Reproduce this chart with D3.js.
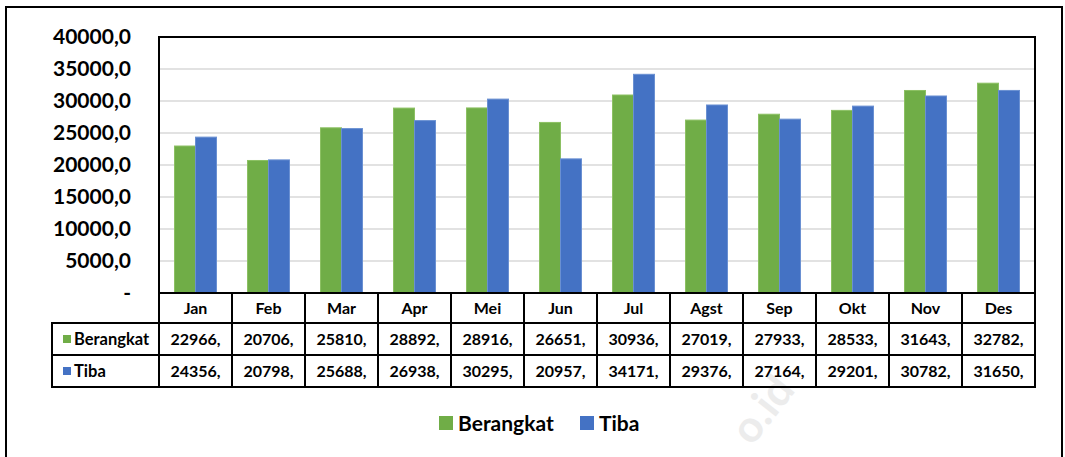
<!DOCTYPE html>
<html>
<head>
<meta charset="utf-8">
<script src="https://cdn.jsdelivr.net/npm/d3@7"></script>
<style>
  body { margin: 0; background: #fff; }
  svg { display: block; font-family: Lato, "Open Sans", sans-serif; font-weight: bold; }
</style>
</head>
<body>
<svg id="chart" width="1065" height="457"></svg>
<script>
// Chart data
const months = ['Jan', 'Feb', 'Mar', 'Apr', 'Mei', 'Jun', 'Jul', 'Agst', 'Sep', 'Okt', 'Nov', 'Des'];
const berangkat = [22966, 20706, 25810, 28892, 28916, 26651, 30936, 27019, 27933, 28533, 31643, 32782];
const tiba = [24356, 20798, 25688, 26938, 30295, 20957, 34171, 29376, 27164, 29201, 30782, 31650];
const yTicks = [0, 5000, 10000, 15000, 20000, 25000, 30000, 35000, 40000];

const series = [
  {name: 'Berangkat', values: berangkat, color: '#70ad47', edge: '#8cc063'},
  {name: 'Tiba', values: tiba, color: '#4472c4', edge: '#6a90d2'}
];

const svg = d3.select('#chart');

// plot area
const plotLeft = 159, plotRight = 1035, plotTop = 37, plotBottom = 293;
const rowH = [30, 32, 32];   // header row, Berangkat row, Tiba row
const tableLeft = 52;
const tableBottom = plotBottom + d3.sum(rowH);

const x = d3.scaleBand().domain(months).range([plotLeft, plotRight]);
const y = d3.scaleLinear().domain([0, 40000]).range([plotBottom, plotTop]);
const barW = 21;

// outer frame
svg.append('rect')
  .attr('x', 6).attr('y', 7).attr('width', 1056).attr('height', 470)
  .attr('fill', 'none').attr('stroke', '#000').attr('stroke-width', 2);

// watermark
svg.append('text')
  .attr('transform', 'translate(752,447) rotate(-52)')
  .attr('font-size', 44).attr('fill', '#ececec')
  .text('o.id');

// gridlines
svg.append('g')
  .selectAll('line')
  .data(yTicks.filter(d => d > 0 && d < 40000))
  .join('line')
  .attr('x1', plotLeft).attr('x2', plotRight)
  .attr('y1', d => y(d)).attr('y2', d => y(d))
  .attr('stroke', '#d9d9d9').attr('stroke-width', 1.5);

// y axis labels
const fmt = d => d === 0 ? '-' : d3.format('.1f')(d).replace('.', ',');
const yAxis = svg.append('g')
  .attr('transform', `translate(${plotLeft},0)`)
  .call(d3.axisLeft(y).tickValues(yTicks).tickSize(0).tickPadding(28).tickFormat(fmt));
yAxis.select('.domain').remove();
yAxis.selectAll('text')
  .attr('font-size', 21).attr('font-family', 'Lato, sans-serif').attr('font-weight', 'bold')
  .attr('fill', '#000');

// bars
series.forEach((s, i) => {
  svg.append('g')
    .selectAll('rect')
    .data(s.values)
    .join('rect')
    .attr('x', (d, j) => x(months[j]) + x.bandwidth() / 2 - barW + i * barW)
    .attr('y', d => y(d))
    .attr('width', barW)
    .attr('height', d => plotBottom - y(d))
    .attr('fill', s.color)
    .attr('stroke', s.edge).attr('stroke-width', 1);
});

// data table
const rowsY = [plotBottom, plotBottom + rowH[0], plotBottom + rowH[0] + rowH[1], tableBottom];
const table = svg.append('g');

// month header
table.selectAll('text.month')
  .data(months)
  .join('text')
  .attr('class', 'month')
  .attr('x', d => x(d) + x.bandwidth() / 2)
  .attr('y', (rowsY[0] + rowsY[1]) / 2)
  .attr('dy', '0.36em')
  .attr('text-anchor', 'middle')
  .attr('font-size', 16)
  .text(d => d);

// value rows
series.forEach((s, i) => {
  const cy = (rowsY[i + 1] + rowsY[i + 2]) / 2;
  table.append('g')
    .selectAll('text')
    .data(s.values)
    .join('text')
    .attr('x', (d, j) => x(months[j]) + x.bandwidth() / 2)
    .attr('y', cy)
    .attr('dy', '0.36em')
    .attr('text-anchor', 'middle')
    .attr('font-size', 16)
    .text(d => d + ',');

  table.append('rect')
    .attr('x', 63).attr('y', cy - 4).attr('width', 8).attr('height', 8)
    .attr('fill', s.color);
  table.append('text')
    .attr('x', 74).attr('y', cy).attr('dy', '0.36em')
    .attr('font-size', 16.5)
    .text(s.name);
});

// table and plot borders
const lines = [];
lines.push([plotLeft, plotTop, plotRight, plotTop]);
lines.push([plotLeft, plotTop, plotLeft, tableBottom]);
lines.push([plotRight, plotTop, plotRight, tableBottom]);
lines.push([plotLeft, plotBottom, plotRight, plotBottom]);
lines.push([tableLeft, rowsY[1], plotRight, rowsY[1]]);
lines.push([tableLeft, rowsY[2], plotRight, rowsY[2]]);
lines.push([tableLeft, rowsY[3], plotRight, rowsY[3]]);
lines.push([tableLeft, rowsY[1], tableLeft, rowsY[3]]);
months.slice(1).forEach(m => lines.push([x(m), plotBottom, x(m), tableBottom]));

svg.append('g')
  .selectAll('line')
  .data(lines)
  .join('line')
  .attr('x1', d => d[0]).attr('y1', d => d[1])
  .attr('x2', d => d[2]).attr('y2', d => d[3])
  .attr('stroke', '#000').attr('stroke-width', 2)
  .attr('stroke-linecap', 'square');

// legend
const legendX = [439, 580];
const legend = svg.append('g')
  .selectAll('g')
  .data(series)
  .join('g')
  .attr('transform', (d, i) => `translate(${legendX[i]},416)`);
legend.append('rect')
  .attr('width', 14).attr('height', 14)
  .attr('fill', d => d.color);
legend.append('text')
  .attr('x', 19).attr('y', 7).attr('dy', '0.36em')
  .attr('font-size', 21)
  .text(d => d.name);
</script>
</body>
</html>
